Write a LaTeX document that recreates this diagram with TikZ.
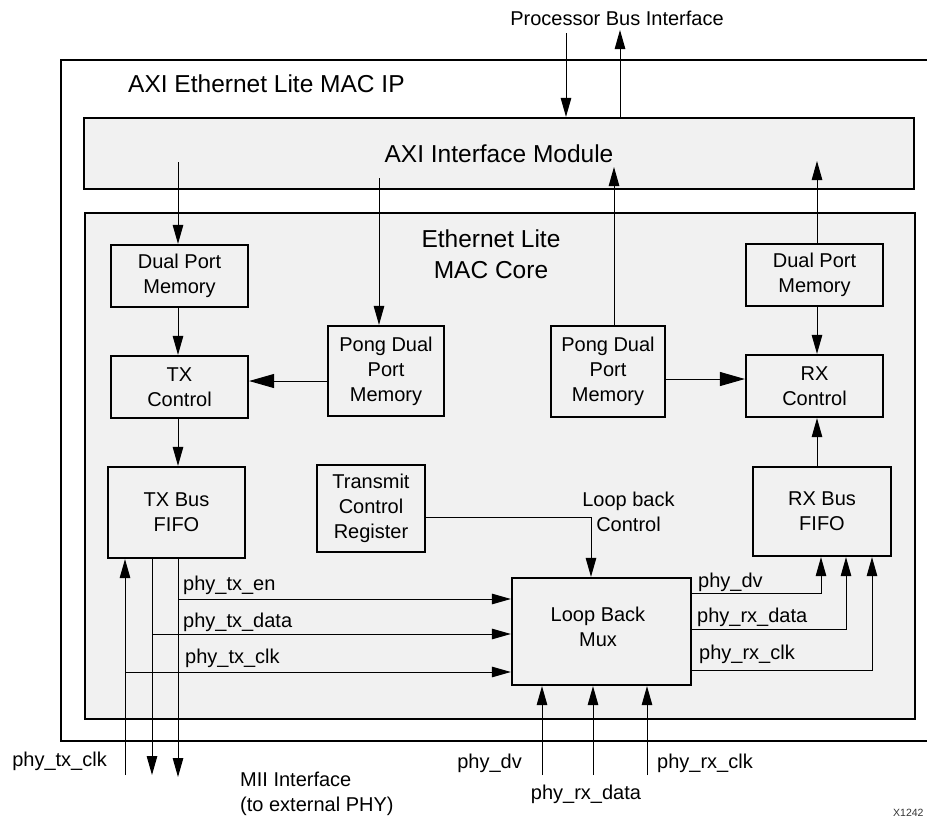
\documentclass[tikz,border=0pt]{standalone}
\usepackage{fontspec}
\setmainfont{Liberation Sans}
\usetikzlibrary{arrows.meta}
\definecolor{boxgray}{RGB}{241,241,241}
\tikzset{
  frame/.style={draw, line width=2.2pt, inner sep=0pt},
  blk/.style={draw, line width=2.2pt, fill=boxgray, inner sep=0pt, align=center,
              font=\fontsize{20}{25}\selectfont},
  big/.style={font=\fontsize{24.5}{31}\selectfont, inner sep=0pt},
  lbl/.style={font=\fontsize{20}{25}\selectfont, inner sep=0pt},
  wire/.style={line width=1pt},
  arr/.style={wire, -{Triangle[length=19pt,width=10.5pt]}},
  bigarr/.style={wire, -{Triangle[length=25pt,width=14pt]}},
}
\begin{document}
\begin{tikzpicture}[x=1pt,y=-1pt]
\useasboundingbox (0,0) rectangle (927,819);
\clip (0,0) rectangle (927,819);

% containers
\node[frame, fill=white, minimum width=879pt, minimum height=681pt] (ip) at (500.5,400.5) {};
\node[big, anchor=base west] (iptitle) at (128,92) {AXI Ethernet Lite MAC IP};
\node[frame, fill=boxgray, minimum width=830pt, minimum height=71pt, font=\fontsize{24.5}{31}\selectfont] (axi) at (499,153.5) {AXI Interface Module};
\node[frame, fill=boxgray, minimum width=830pt, minimum height=506pt] (core) at (500,466) {};
\node[big, align=center] (coretitle) at (491,254.5) {Ethernet Lite\\MAC Core};

% blocks
\node[blk, minimum width=137pt, minimum height=62pt] (dpmL) at (179.5,276) {Dual Port\\Memory};
\node[blk, minimum width=137pt, minimum height=62pt] (txc) at (179.5,387) {TX\\Control};
\node[blk, minimum width=137pt, minimum height=91pt] (txf) at (176.5,512.5) {TX Bus\\FIFO};
\node[blk, minimum width=116pt, minimum height=90pt] (pongL) at (386,371) {Pong Dual\\Port\\Memory};
\node[blk, minimum width=108pt, minimum height=87pt] (tcr) at (371,508.5) {Transmit\\Control\\Register};
\node[blk, minimum width=114pt, minimum height=91pt] (pongR) at (608,371.5) {Pong Dual\\Port\\Memory};
\node[blk, minimum width=137pt, minimum height=62pt] (dpmR) at (814.5,275) {Dual Port\\Memory};
\node[blk, minimum width=137pt, minimum height=62pt] (rxc) at (814.5,386) {RX\\Control};
\node[blk, minimum width=138pt, minimum height=89pt] (rxf) at (822,511.5) {RX Bus\\FIFO};
\node[blk, minimum width=179pt, minimum height=107pt] (mux) at (601.5,631.5) {};
\node[lbl, align=center] (muxtext) at (598,626.5) {Loop Back\\Mux};

% processor bus
\node[lbl, anchor=base] (pbi) at (617,25) {Processor Bus Interface};
\coordinate (pbin) at (566,33);
\coordinate (pbout) at (620,30);
\draw[arr] (pbin) -- (pbin |- axi.north);
\draw[arr] (axi.north -| pbout) -- (pbout);

% AXI <-> core blocks
\coordinate (a1) at (178,162);
\coordinate (a2) at (379,178);
\coordinate (a3) at (614,167);
\coordinate (a4) at (817,161);
\draw[arr] (a1) -- (a1 |- dpmL.north);
\draw[arr] (a2) -- (a2 |- pongL.north);
\draw[arr] (a3 |- pongR.north) -- (a3);
\draw[arr] (a4 |- dpmR.north) -- (a4);

% internal
\coordinate (yTX) at (0,381);
\coordinate (yRX) at (0,379);
\draw[arr] (dpmL.south -| a1) -- (txc.north -| a1);
\draw[arr] (txc.south -| a1) -- (txf.north -| a1);
\draw[bigarr] (pongL.west |- yTX) -- (txc.east |- yTX);
\draw[bigarr] (pongR.east |- yRX) -- (rxc.west |- yRX);
\draw[arr] (dpmR.south -| a4) -- (rxc.north -| a4);
\draw[arr] (rxf.north -| a4) -- (rxc.south -| a4);

% loop back control
\coordinate (lb) at (591,517);
\draw[arr] (tcr.east |- lb) -- (lb) -- (lb |- mux.north);
\node[lbl, align=center] (lbc) at (628.5,511.5) {Loop back\\Control};

% TX side MII
\coordinate (t1) at (178,777);
\coordinate (t2) at (152,775);
\coordinate (t3) at (125,775);
\coordinate (yen) at (0,599);
\coordinate (ydata) at (0,634);
\coordinate (yclk) at (0,672);
\draw[arr] (txf.south -| t1) -- (t1);
\draw[arr] (txf.south -| t2) -- (t2);
\draw[arr] (t3) -- (txf.south -| t3);
\draw[arr] (t1 |- yen) -- (mux.west |- yen);
\draw[arr] (t2 |- ydata) -- (mux.west |- ydata);
\draw[arr] (t3 |- yclk) -- (mux.west |- yclk);
\node[lbl, anchor=base west] (ltxen) at (183,590) {phy\_tx\_en};
\node[lbl, anchor=base west] (ltxdata) at (183,627) {phy\_tx\_data};
\node[lbl, anchor=base west] (ltxclk) at (185,663) {phy\_tx\_clk};

% RX side
\coordinate (r1) at (821,593);
\coordinate (r2) at (846,629);
\coordinate (r3) at (872,670);
\draw[arr] (mux.east |- r1) -- (r1) -- (r1 |- rxf.south);
\draw[arr] (mux.east |- r2) -- (r2) -- (r2 |- rxf.south);
\draw[arr] (mux.east |- r3) -- (r3) -- (r3 |- rxf.south);
\node[lbl, anchor=base west] (lrxdv) at (698,587) {phy\_dv};
\node[lbl, anchor=base west] (lrxdata) at (697,622) {phy\_rx\_data};
\node[lbl, anchor=base west] (lrxclk) at (699,659) {phy\_rx\_clk};

% bottom inputs
\coordinate (b1) at (542,775);
\coordinate (b2) at (593,775);
\coordinate (b3) at (647,775);
\draw[arr] (b1) -- (b1 |- mux.south);
\draw[arr] (b2) -- (b2 |- mux.south);
\draw[arr] (b3) -- (b3 |- mux.south);

% bottom labels
\node[lbl, anchor=base east] (btxclk) at (107,766) {phy\_tx\_clk};
\node[lbl, anchor=west, align=left] (mii) at (240,793.5) {MII Interface\\(to external PHY)};
\node[lbl, anchor=base east] (bdv) at (522,768) {phy\_dv};
\node[lbl, anchor=base] (brxdata) at (586,799) {phy\_rx\_data};
\node[lbl, anchor=base west] (brxclk) at (657,768) {phy\_rx\_clk};
\node[anchor=base west, inner sep=0pt, font=\fontsize{10.5}{12}\selectfont, text=black!80] (xid) at (893,816) {X1242};
\end{tikzpicture}
\end{document}
